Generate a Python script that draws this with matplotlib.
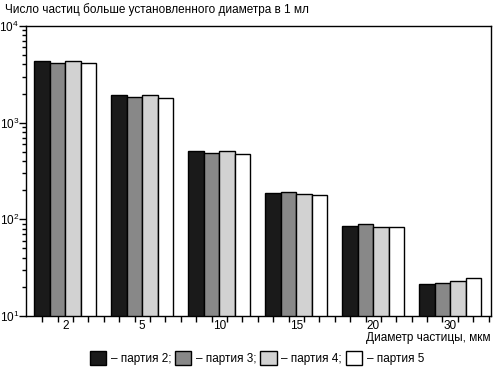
import numpy as np
import matplotlib.pyplot as plt
from matplotlib.patches import Patch

plt.rcParams['font.family'] = ['Liberation Sans', 'DejaVu Sans']
plt.rcParams['mathtext.default'] = 'regular'

diameters = ['2', '5', '10', '15', '20', '30']
batches = ['партия 2', 'партия 3', 'партия 4', 'партия 5']
colors = ['#1a1a1a', '#888888', '#d2d2d2', '#ffffff']
p2 = [4350, 1930, 505, 187, 85, 21.3]
p3 = [4150, 1840, 485, 192, 89, 22.1]
p4 = [4350, 1920, 505, 181, 83, 23.2]
p5 = [4100, 1790, 475, 178, 83, 25.0]
series = [p2, p3, p4, p5]

fig = plt.figure(figsize=(4.94, 3.75), dpi=100)
ax = fig.add_axes([26 / 494, 1 - 316 / 375, 465 / 494, 290 / 375])

groups = np.arange(len(diameters)) * 5
for k, vals in enumerate(series):
    ax.bar(groups + k + 0.05, vals, width=1.0, color=colors[k], edgecolor='black',
           linewidth=1.0, zorder=2)

ax.set_yscale('log')
ax.set_ylim(10, 1e4)
ax.set_xlim(-1, 29.2)
ax.set_yticks([10, 100, 1000, 10000])
ax.set_yticklabels([r'$10^1$', r'$10^2$', r'$10^3$', r'$10^4$'])

ax.set_xticks(groups + 1.55)
ax.set_xticklabels(diameters, fontsize=8.5)
ax.set_xticks(np.arange(0, 30) + 0.05, minor=True)
ax.tick_params(axis='x', which='major', length=0, pad=3)
ax.tick_params(axis='x', which='minor', length=4, direction='out', width=1.0)
ax.tick_params(axis='y', which='major', length=5, width=1.0, labelsize=8.5, pad=0)
ax.tick_params(axis='y', which='minor', length=3, width=1.0)
for s in ax.spines.values():
    s.set_linewidth(1.0)

fig.text(5 / 494, 1 - 10 / 375, 'Число частиц больше установленного диаметра в 1 мл',
         fontsize=8.5, va='center', ha='left')
fig.text(490 / 494, 1 - 338 / 375, 'Диаметр частицы, мкм',
         fontsize=8.5, va='center', ha='right')

handles = [Patch(facecolor=c, edgecolor='black', linewidth=1.0) for c in colors]
labels = ['– партия 2;', '– партия 3;', '– партия 4;', '– партия 5']
fig.legend(handles, labels, loc='center', bbox_to_anchor=(0.52, 1 - 358 / 375),
           ncol=4, frameon=False, fontsize=8.5, handlelength=1.4, handleheight=1.4,
           handletextpad=0.4, columnspacing=0.3)

fig.savefig('out.png', dpi=100)
